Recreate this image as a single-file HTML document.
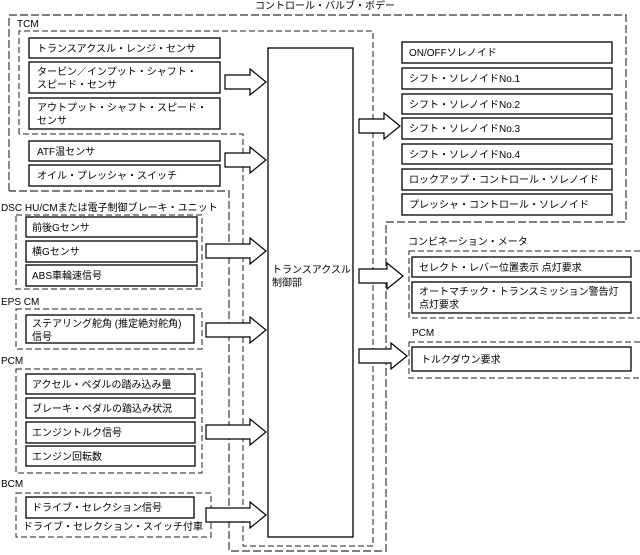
<!DOCTYPE html>
<html><head><meta charset="utf-8"><style>
html,body{margin:0;padding:0;background:#fff}
svg{display:block}
text{font-family:"Liberation Sans","Noto Sans CJK JP",sans-serif;font-size:10px;fill:#000}
.b{fill:#fff;stroke:#000;stroke-width:1.3}
.d{fill:none;stroke:#222;stroke-width:1;stroke-dasharray:6 3}
.o{fill:none;stroke:#555;stroke-width:1.4;stroke-dasharray:8 3}
.a{fill:#fff;stroke:#000;stroke-width:1.2}
</style></head><body>
<svg width="640" height="555" viewBox="0 0 640 555" xmlns="http://www.w3.org/2000/svg">
<text x="255" y="9">コントロール・バルブ・ボデー</text>
<polyline class="o" points="9,191 9,15 626,15 626,222 386,222 386,551 229,551 229,191 9,191"/>
<polyline class="d" points="19,134 19,31 373,31 373,546 243,546 243,134 19,134"/>
<text x="17" y="27">TCM</text>
<rect class="b" x="268" y="48" width="85" height="489"/>
<text x="272" y="273">トランスアクスル</text>
<text x="272" y="286">制御部</text>
<rect class="b" x="29" y="38" width="191" height="20"/><text x="37" y="52">トランスアクスル・レンジ・センサ</text>
<rect class="b" x="29" y="62" width="191" height="31"/><text x="37" y="75">タービン／インプット・シャフト・</text><text x="37" y="88">スピード・センサ</text>
<rect class="b" x="29" y="98" width="191" height="31"/><text x="37" y="111">アウトプット・シャフト・スピード・</text><text x="37" y="124">センサ</text>
<rect class="b" x="29" y="141" width="191" height="20"/><text x="37" y="155">ATF温センサ</text>
<rect class="b" x="29" y="165" width="191" height="21"/><text x="37" y="179">オイル・プレッシャ・スイッチ</text>
<text x="1" y="211">DSC HU/CMまたは電子制御ブレーキ・ユニット</text>
<rect class="d" x="16" y="215" width="186" height="74"/>
<rect class="b" x="26" y="217" width="171" height="20"/><text x="32" y="231">前後Gセンサ</text>
<rect class="b" x="26" y="241" width="171" height="21"/><text x="32" y="255">横Gセンサ</text>
<rect class="b" x="26" y="265" width="171" height="21"/><text x="32" y="279">ABS車輪速信号</text>
<text x="1" y="305">EPS CM</text>
<rect class="d" x="16" y="309" width="186" height="40"/>
<rect class="b" x="26" y="315" width="168" height="28"/><text x="32" y="327">ステアリング舵角 (推定絶対舵角)</text><text x="32" y="340">信号</text>
<text x="1" y="364">PCM</text>
<rect class="d" x="16" y="369" width="186" height="104"/>
<rect class="b" x="26" y="374" width="169" height="20"/><text x="32" y="388">アクセル・ペダルの踏み込み量</text>
<rect class="b" x="26" y="398" width="169" height="20"/><text x="32" y="412">ブレーキ・ペダルの踏込み状況</text>
<rect class="b" x="26" y="422" width="169" height="21"/><text x="32" y="436">エンジントルク信号</text>
<rect class="b" x="26" y="446" width="169" height="20"/><text x="32" y="460">エンジン回転数</text>
<text x="1" y="487">BCM</text>
<rect class="d" x="16" y="493" width="195" height="44"/>
<rect class="b" x="26" y="497" width="168" height="21"/><text x="32" y="511">ドライブ・セレクション信号</text>
<text x="23" y="530">ドライブ・セレクション・スイッチ付車</text>
<g class="a">
<polygon points="225,75 250,75 250,69 266,82 250,95 250,89 225,89"/>
<polygon points="225,153 250,153 250,147 266,160 250,173 250,167 225,167"/>
<polygon points="206,244 250,244 250,238 266,251 250,264 250,258 206,258"/>
<polygon points="206,323 250,323 250,317 266,330 250,343 250,337 206,337"/>
<polygon points="206,425 250,425 250,419 266,432 250,445 250,439 206,439"/>
<polygon points="206,508 250,508 250,502 266,515 250,528 250,522 206,522"/>
<polygon points="359,119 384,119 384,113 400,126 384,139 384,133 359,133"/>
<polygon points="359,269 387,269 387,263 403,276 387,289 387,283 359,283"/>
<polygon points="359,349 391,349 391,343 407,356 391,369 391,363 359,363"/>
</g>
<rect class="b" x="402" y="42" width="210" height="21"/><text x="409" y="56">ON/OFFソレノイド</text>
<rect class="b" x="402" y="68" width="210" height="21"/><text x="409" y="82">シフト・ソレノイドNo.1</text>
<rect class="b" x="402" y="94" width="210" height="20"/><text x="409" y="108">シフト・ソレノイドNo.2</text>
<rect class="b" x="402" y="118" width="210" height="21"/><text x="409" y="132">シフト・ソレノイドNo.3</text>
<rect class="b" x="402" y="144" width="210" height="20"/><text x="409" y="158">シフト・ソレノイドNo.4</text>
<rect class="b" x="402" y="169" width="210" height="21"/><text x="409" y="183">ロックアップ・コントロール・ソレノイド</text>
<rect class="b" x="402" y="194" width="210" height="21"/><text x="409" y="208">プレッシャ・コントロール・ソレノイド</text>
<text x="408" y="245">コンビネーション・メータ</text>
<rect class="d" x="409" y="251" width="232" height="67"/>
<rect class="b" x="412" y="257" width="219" height="20"/><text x="419" y="271">セレクト・レバー位置表示 点灯要求</text>
<rect class="b" x="412" y="282" width="219" height="31"/><text x="419" y="295">オートマチック・トランスミッション警告灯</text><text x="419" y="308">点灯要求</text>
<text x="412" y="336">PCM</text>
<rect class="d" x="409" y="342" width="232" height="36"/>
<rect class="b" x="412" y="347" width="219" height="24"/><text x="421" y="363">トルクダウン要求</text>
</svg>
</body></html>
